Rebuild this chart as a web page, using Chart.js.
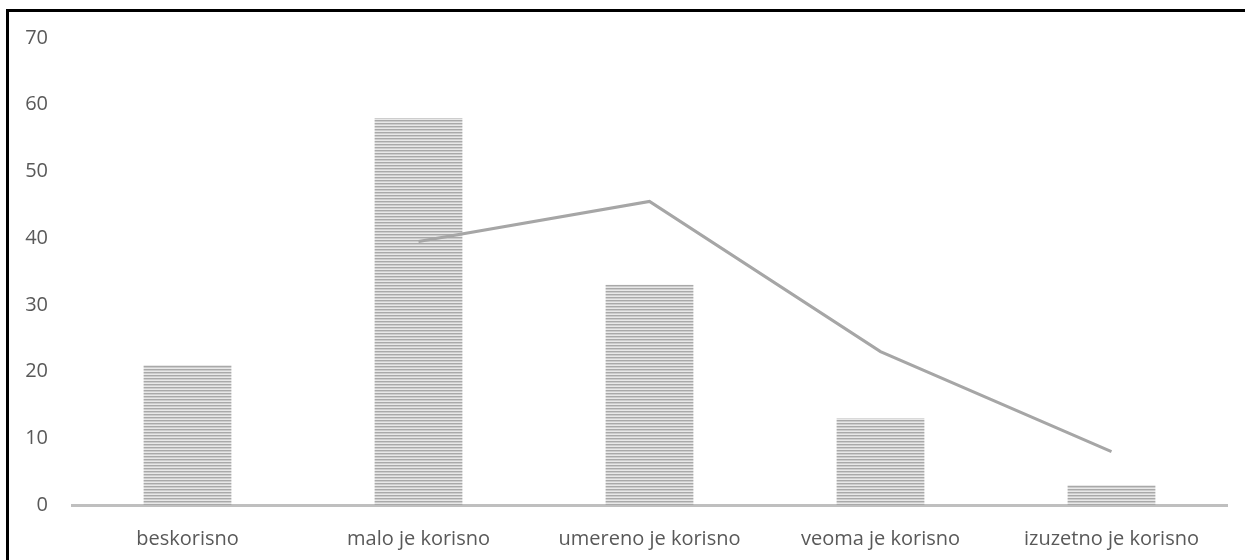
<!DOCTYPE html>
<html>
<head>
<meta charset="utf-8">
<script src="https://cdn.jsdelivr.net/npm/chart.js@4"></script>
<style>
    html, body { margin: 0; padding: 0; background: #fff; overflow: hidden; }
    #wrap { position: relative; width: 1245px; height: 560px; }
    #frame {
        position: absolute; left: 6px; top: 9px; width: 1300px; height: 600px;
        border-left: 3px solid #000; border-top: 3px solid #000;
        pointer-events: none;
    }
    canvas { position: absolute; left: 0; top: 0; }
</style>
</head>
<body>
<div id="wrap">
    <canvas id="chart" width="1245" height="560"></canvas>
    <div id="frame"></div>
</div>
<script>
// Kategorije i vrijednosti
const categories = ['beskorisno', 'malo je korisno', 'umereno je korisno', 'veoma je korisno', 'izuzetno je korisno'];
const barValues = [21, 58, 33, 13, 3];
// trend linija (pokretni prosjek, 2 perioda) – očitano sa slike
const trendValues = [null, 39.5, 45.5, 23, 8];
const yTicks = [0, 10, 20, 30, 40, 50, 60, 70];

function stripePattern() {
    const c = document.createElement('canvas');
    c.width = 4;
    c.height = 3;
    const g = c.getContext('2d');
    g.fillStyle = '#a9a9a9';
    g.fillRect(0, 0, 4, 1);
    g.fillStyle = '#cdcdcd';
    g.fillRect(0, 1, 4, 1);
    g.fillStyle = '#e8e8e8';
    g.fillRect(0, 2, 4, 1);
    return g.createPattern(c, 'repeat');
}

const ctx = document.getElementById('chart').getContext('2d');
const font = { family: '"Open Sans", "Noto Sans", sans-serif', size: 20 };

new Chart(ctx, {
    type: 'bar',
    data: {
        labels: categories,
        datasets: [
            {
                type: 'line',
                data: trendValues,
                borderColor: '#a6a6a6',
                borderWidth: 3,
                pointRadius: 0,
                tension: 0,
                fill: false,
                order: 0
            },
            {
                data: barValues,
                backgroundColor: stripePattern(),
                borderWidth: 0,
                barPercentage: 0.38,
                categoryPercentage: 1,
                order: 1
            }
        ]
    },
    options: {
        responsive: false,
        animation: false,
        layout: { padding: { top: 38, right: 18, left: 0, bottom: 0 } },
        plugins: {
            legend: { display: false },
            tooltip: { enabled: false }
        },
        scales: {
            x: {
                grid: { display: false },
                border: { display: true, color: '#bfbfbf', width: 3 },
                ticks: { color: '#595959', font: font, padding: 14, maxRotation: 0, autoSkip: false },
                afterFit: s => { s.height = 55; }
            },
            y: {
                min: 0,
                max: 70,
                afterBuildTicks: s => { s.ticks = yTicks.map(v => ({ value: v })); },
                grid: { display: false, drawTicks: false },
                border: { display: false },
                ticks: { color: '#595959', font: font, padding: 24 },
                afterFit: s => { s.width = 72; }
            }
        }
    }
});
</script>
</body>
</html>
